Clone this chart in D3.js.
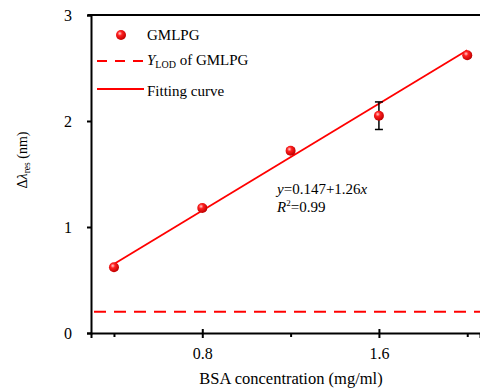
<!DOCTYPE html>
<html>
<head>
<meta charset="utf-8">
<script src="https://cdn.jsdelivr.net/npm/d3@7"></script>
<style>
  body { margin: 0; background: #fff; }
  svg text { font-family: "Times New Roman", Times, "Liberation Serif", "DejaVu Serif", serif; fill: #000; }
  .axis path, .axis line { stroke: #000; stroke-width: 2; }
  .axis text { font-size: 16px; }
</style>
</head>
<body>
<div class="chart"></div>
<script>
const conc = [0.4, 0.8, 1.2, 1.6, 2.0];
const shift = [0.62, 1.18, 1.72, 2.05, 2.62];
const err = [0.02, 0.02, 0.02, 0.13, 0.02];
const lod = 0.2;
const fit = { a: 0.147, b: 1.26 };
const xTicks = [0.8, 1.6];
const xMinor = [0.4, 1.2, 2.0];
const yTicks = [0, 1, 2, 3];

const serif = '"Times New Roman", Times, "Liberation Serif", "DejaVu Serif", serif';
const margin = { top: 15, left: 91, bottom: 56, right: 0 };
const width = 480 - margin.left - margin.right;
const height = 389 - margin.top - margin.bottom;

const svg = d3.select('.chart').append('svg')
  .attr('width', 480).attr('height', 389)
  .attr('font-family', serif);

const defs = svg.append('defs');
const grad = defs.append('radialGradient').attr('id', 'ball')
  .attr('cx', '38%').attr('cy', '35%').attr('r', '65%');
grad.append('stop').attr('offset', '0%').attr('stop-color', '#ffd0d0');
grad.append('stop').attr('offset', '35%').attr('stop-color', '#ff2020');
grad.append('stop').attr('offset', '100%').attr('stop-color', '#c00000');

const chart = svg.append('g').attr('transform', `translate(${margin.left},${margin.top})`);

const x = d3.scaleLinear().domain([0.296, 0.296 + width / 220.8]).range([0, width]);
const y = d3.scaleLinear().domain([0, 3]).range([height, 0]);

// axes
chart.append('g').attr('class', 'axis')
  .attr('transform', `translate(0,${height})`)
  .call(d3.axisBottom(x).tickValues(xTicks).tickFormat(d3.format('.1f')).tickSizeOuter(0).tickSize(5).tickPadding(10))
  .call(g => g.attr('font-family', serif))
  .call(g => g.selectAll('.tick line').attr('y1', -4));
chart.append('g').attr('class', 'axis minor')
  .attr('transform', `translate(0,${height})`)
  .call(d3.axisBottom(x).tickValues(xMinor).tickFormat('').tickSizeOuter(0).tickSize(4))
  .call(g => g.select('.domain').remove());
chart.append('g').attr('class', 'axis')
  .call(d3.axisLeft(y).tickValues(yTicks).tickFormat(d3.format('d')).tickSizeOuter(0).tickSize(4).tickPadding(12))
  .call(g => g.attr('font-family', serif))
  .call(g => g.selectAll('.tick text').attr('dx', '-3'));
chart.append('line')
  .attr('x1', -3).attr('x2', width).attr('y1', 0).attr('y2', 0)
  .attr('stroke', '#000').attr('stroke-width', 2);

// LOD line
chart.append('line')
  .attr('x1', 3).attr('x2', width)
  .attr('y1', y(lod)).attr('y2', y(lod))
  .attr('stroke', '#ff0000').attr('stroke-width', 2)
  .attr('stroke-dasharray', '12,8');

// fit
chart.append('line')
  .attr('x1', x(conc[0])).attr('y1', y(fit.a + fit.b * conc[0]))
  .attr('x2', x(conc[4])).attr('y2', y(fit.a + fit.b * conc[4]))
  .attr('stroke', '#ff0000').attr('stroke-width', 1.8);

// error bars
const eb = chart.selectAll('.err').data(conc.map((c, i) => ({ c, v: shift[i], e: err[i] })))
  .enter().append('g').attr('class', 'err').attr('stroke', '#000').attr('stroke-width', 1.5);
eb.append('line').attr('x1', d => x(d.c)).attr('x2', d => x(d.c))
  .attr('y1', d => y(d.v + d.e)).attr('y2', d => y(d.v - d.e));
eb.append('line').attr('x1', d => x(d.c) - 4).attr('x2', d => x(d.c) + 4)
  .attr('y1', d => y(d.v + d.e)).attr('y2', d => y(d.v + d.e));
eb.append('line').attr('x1', d => x(d.c) - 4).attr('x2', d => x(d.c) + 4)
  .attr('y1', d => y(d.v - d.e)).attr('y2', d => y(d.v - d.e));

// points
chart.selectAll('.pt').data(conc).enter().append('circle')
  .attr('class', 'pt')
  .attr('cx', d => x(d)).attr('cy', (d, i) => y(shift[i]))
  .attr('r', 5).attr('fill', 'url(#ball)');

// legend
const lg = svg.append('g').attr('font-size', 15);
lg.append('circle').attr('cx', 121).attr('cy', 35).attr('r', 5).attr('fill', 'url(#ball)');
lg.append('text').attr('x', 147).attr('y', 40).text('GMLPG');
lg.append('line').attr('x1', 97).attr('x2', 144).attr('y1', 61).attr('y2', 61)
  .attr('stroke', '#ff0000').attr('stroke-width', 2).attr('stroke-dasharray', '10,8');
const t2 = lg.append('text').attr('x', 147).attr('y', 65);
t2.append('tspan').attr('font-style', 'italic').text('Y');
t2.append('tspan').attr('font-size', 10).attr('dy', 3).text('LOD');
t2.append('tspan').attr('dy', -3).text(' of GMLPG');
lg.append('line').attr('x1', 97).attr('x2', 144).attr('y1', 89).attr('y2', 89)
  .attr('stroke', '#ff0000').attr('stroke-width', 1.8);
lg.append('text').attr('x', 147).attr('y', 96).text('Fitting curve');

// annotation
const an = svg.append('g').attr('font-size', 15);
const a1 = an.append('text').attr('x', 277).attr('y', 194);
a1.append('tspan').attr('font-style', 'italic').text('y');
a1.append('tspan').text('=0.147+1.26');
a1.append('tspan').attr('font-style', 'italic').text('x');
const a2 = an.append('text').attr('x', 277).attr('y', 212);
a2.append('tspan').attr('font-style', 'italic').text('R');
a2.append('tspan').attr('font-size', 9).attr('dy', -6).text('2');
a2.append('tspan').attr('dy', 6).text('=0.99');

// axis titles
svg.append('text').attr('x', 291).attr('y', 384).attr('text-anchor', 'middle')
  .attr('font-size', 16.5).text('BSA concentration (mg/ml)');
const yl = svg.append('text').attr('transform', 'translate(27,160) rotate(-90)')
  .attr('text-anchor', 'middle').attr('font-size', 14);
yl.append('tspan').text('Δ');
yl.append('tspan').attr('font-style', 'italic').text('λ');
yl.append('tspan').attr('font-size', 9.5).attr('dy', 3).text('res');
yl.append('tspan').attr('dy', -3).text(' (nm)');
</script>
</body>
</html>
